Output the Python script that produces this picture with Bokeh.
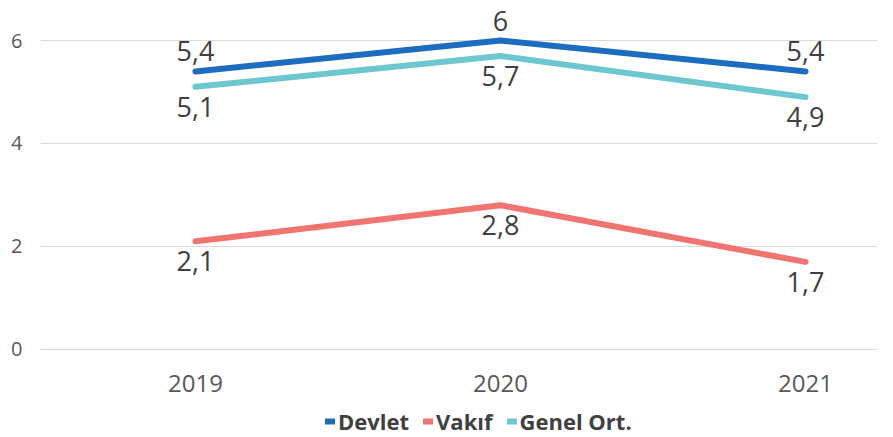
from bokeh.plotting import figure
from bokeh.layouts import column
from bokeh.models import Legend, LegendItem, FixedTicker, Range1d, ColumnDataSource
from bokeh.core.properties import value
from bokeh.embed import file_html
from bokeh.resources import INLINE

years = ["2019", "2020", "2021"]
devlet = [5.4, 6.0, 5.4]
vakif = [2.1, 2.8, 1.7]
genel = [5.1, 5.7, 4.9]
series_names = ["Devlet", "Vakıf", "Genel Ort."]
y_ticks = [0, 2, 4, 6]

colors = ["#1C6DC0", "#F27471", "#6CC7CF"]
FONT = "Open Sans"

def fmt(v):
    s = ("%g" % v)
    return s.replace(".", ",")

xs = list(range(len(years)))

p = figure(frame_width=837, frame_height=351, output_backend="svg", toolbar_location=None,
           x_range=Range1d(-0.508, 2.236), y_range=Range1d(-0.04, 6.777),
           min_border_left=40, min_border_right=0, min_border_top=0, min_border_bottom=55)
p.outline_line_color = None
p.background_fill_color = "white"

p.xaxis.ticker = FixedTicker(ticks=xs)
p.xaxis.major_label_overrides = {i: y for i, y in enumerate(years)}
p.xaxis.axis_line_color = None
p.xaxis.major_tick_line_color = None
p.xaxis.minor_tick_line_color = None
p.xaxis.major_tick_in = 0
p.xaxis.major_tick_out = 0
p.xaxis.major_label_text_font = FONT
p.xaxis.major_label_text_font_size = "24px"
p.xaxis.major_label_text_color = "#595959"
p.xaxis.major_label_standoff = 23
p.xgrid.grid_line_color = None

p.yaxis.ticker = FixedTicker(ticks=y_ticks)
p.yaxis.axis_line_color = None
p.yaxis.major_tick_line_color = None
p.yaxis.minor_tick_line_color = None
p.yaxis.major_tick_in = 0
p.yaxis.major_tick_out = 0
p.yaxis.major_label_text_font = FONT
p.yaxis.major_label_text_font_size = "20px"
p.yaxis.major_label_text_color = "#595959"
p.yaxis.major_label_standoff = 18
p.ygrid.grid_line_color = "#D9D9D9"
p.ygrid.grid_line_width = 1

for vals, col in zip([devlet, vakif, genel], colors):
    p.line(xs, vals, line_color=col, line_width=6, line_cap="round", line_join="round")

# data labels
label_specs = [(devlet, "bottom", -10), (vakif, "top", 10), (genel, "top", 10)]
for vals, baseline, off in label_specs:
    src = ColumnDataSource(dict(x=xs, y=vals, t=[fmt(v) for v in vals]))
    p.text(x="x", y="y", text="t", source=src, text_align="center", text_baseline=baseline,
           y_offset=off, text_font=value(FONT), text_font_size="27px", text_color="#404040")

# legend strip (separate small figure; its lines lie outside its visible range)
lg = figure(width=877, height=30, output_backend="svg", toolbar_location=None,
            x_range=Range1d(100, 101), y_range=Range1d(100, 101),
            min_border=0, x_axis_type=None, y_axis_type=None)
lg.outline_line_color = None
lg.xgrid.grid_line_color = None
lg.ygrid.grid_line_color = None
leg_renderers = []
for vals, col in zip([devlet, vakif, genel], colors):
    r = lg.line(xs, vals, line_color=col, line_width=6, line_cap="round")
    leg_renderers.append(r)

legend = Legend(items=[LegendItem(label=n, renderers=[r]) for n, r in zip(series_names, leg_renderers)],
                orientation="horizontal", location=(285, 0))
legend.label_text_font = FONT
legend.label_text_font_style = "bold"
legend.label_text_font_size = "22px"
legend.label_text_color = "#404040"
legend.glyph_width = 10
legend.glyph_height = 24
legend.label_height = 24
legend.label_standoff = 3
legend.spacing = 14
legend.border_line_color = None
legend.background_fill_alpha = 0
legend.padding = 0
legend.margin = 0
lg.add_layout(legend, "center")

layout = column(p, lg)
open("out.html", "w").write(file_html(layout, INLINE))
